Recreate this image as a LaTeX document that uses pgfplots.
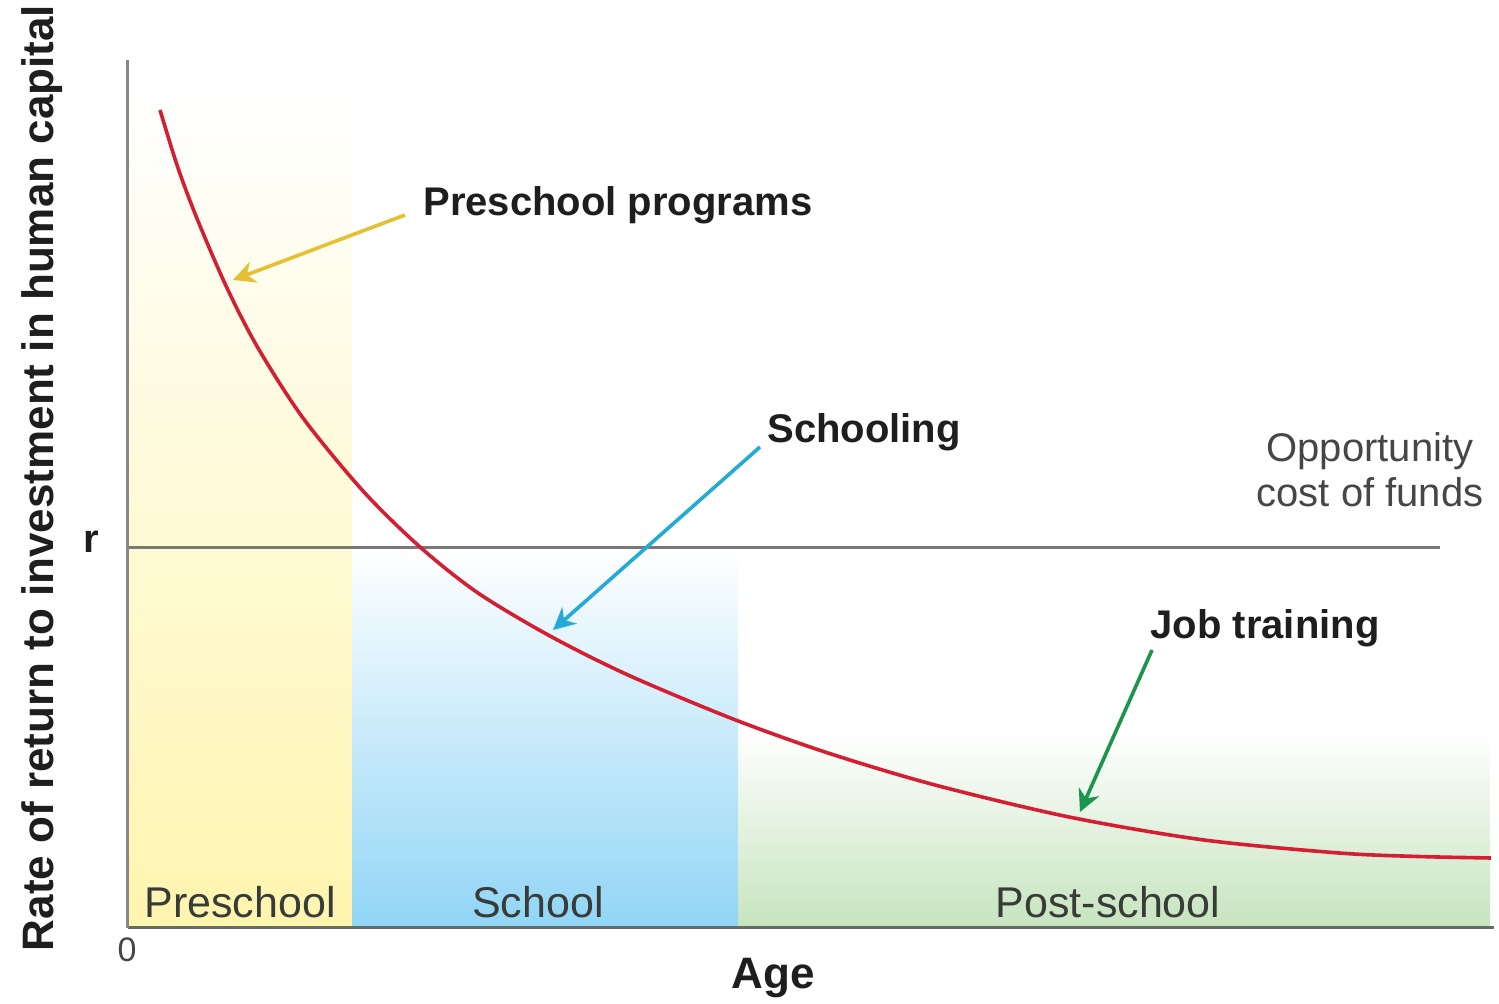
\documentclass[border=0pt]{standalone}
\usepackage{pgfplots}
\pgfplotsset{compat=1.18}
\usepackage{fontspec}
\setmainfont{Liberation Sans}
\usetikzlibrary{arrows.meta}
\definecolor{curvered}{RGB}{212,30,50}
\definecolor{ygray}{RGB}{135,135,135}
\definecolor{xgray}{RGB}{100,108,102}
\definecolor{rgray}{RGB}{120,120,120}
\definecolor{yelfill}{RGB}{255,245,175}
\definecolor{yelmid}{RGB}{255,251,222}
\definecolor{bluefill}{RGB}{145,213,246}
\definecolor{greenfill}{RGB}{198,228,190}
\definecolor{arrowyellow}{RGB}{228,192,50}
\definecolor{arrowblue}{RGB}{35,170,215}
\definecolor{arrowgreen}{RGB}{25,150,75}
\definecolor{txtdark}{RGB}{30,30,30}
\definecolor{txtregion}{RGB}{55,60,55}
\definecolor{txtgray}{RGB}{70,70,70}
\begin{document}
\begin{tikzpicture}
\useasboundingbox (-64pt,-38pt) rectangle (685.5pt,464pt);
\begin{axis}[
  scale only axis, width=683pt, height=434pt,
  at={(0,0)}, anchor=south west,
  xmin=0, xmax=1366, ymin=0, ymax=868,
  axis x line=bottom, axis y line=left,
  x axis line style={-, line width=1.5pt, color=xgray},
  y axis line style={-, line width=1.5pt, color=ygray},
  xtick=\empty, ytick=\empty,
  clip=false, axis on top,
]
% shaded regions
\addplot[draw=none, top color=white, middle color=yelmid, bottom color=yelfill] coordinates {(0,840) (224,840)} \closedcycle;
\addplot[draw=none, top color=white, bottom color=bluefill] coordinates {(224,380) (610,380)} \closedcycle;
\addplot[draw=none, top color=white, bottom color=greenfill] coordinates {(610,195) (1362,195)} \closedcycle;
% opportunity cost line r
\addplot[rgray, line width=1.5pt] coordinates {(0,380) (1312,380)};
% rate of return curve
\addplot[curvered, line width=1.8pt, smooth] coordinates {
 (32,818) (50,760) (70,707) (99,640) (130,580) (175,510) (235,437) (292,381)
 (350,335) (422,292) (500,253) (605,209) (700,175) (807,143) (941,111)
 (1076,88) (1211,75) (1290,71.5) (1363,70)};
% arrows
\addplot[arrowyellow, line width=1.8pt, -{Stealth[length=11pt,width=11pt]}] coordinates {(277,713) (105,648)};
\addplot[arrowblue, line width=1.8pt, -{Stealth[length=11pt,width=11pt]}] coordinates {(632,481) (425,298)};
\addplot[arrowgreen, line width=1.8pt, -{Stealth[length=11pt,width=11pt]}] coordinates {(1024,278) (952,116)};
% labels
\node[font=\fontsize{20}{24}\selectfont\bfseries, text=txtdark] at (axis cs:490,723) {Preschool programs};
\node[font=\fontsize{20}{24}\selectfont\bfseries, text=txtdark] at (axis cs:736,496) {Schooling};
\node[font=\fontsize{20}{24}\selectfont\bfseries, text=txtdark] at (axis cs:1137,300) {Job training};
\node[font=\fontsize{20}{22.5}\selectfont, text=txtgray, align=center] at (axis cs:1242,458) {Opportunity\\cost of funds};
\node[font=\fontsize{21.5}{24}\selectfont, text=txtregion] at (axis cs:112,26) {Preschool};
\node[font=\fontsize{21.5}{24}\selectfont, text=txtregion] at (axis cs:410,26) {School};
\node[font=\fontsize{21.5}{24}\selectfont, text=txtregion] at (axis cs:980,26) {Post-school};
\node[font=\fontsize{20}{24}\selectfont\bfseries, text=txtdark, anchor=east] at (axis cs:-22,386) {r};
\node[font=\fontsize{17}{19}\selectfont, text=txtgray] at (axis cs:-1,-22) {0};
\node[font=\fontsize{22}{24}\selectfont\bfseries, text=txtdark] at (axis cs:645,-50) {Age};
\node[font=\fontsize{22}{24}\selectfont\bfseries, text=txtdark, rotate=90] at (axis cs:-86,450) {Rate of return to investment in human capital};
\end{axis}
\end{tikzpicture}
\end{document}
